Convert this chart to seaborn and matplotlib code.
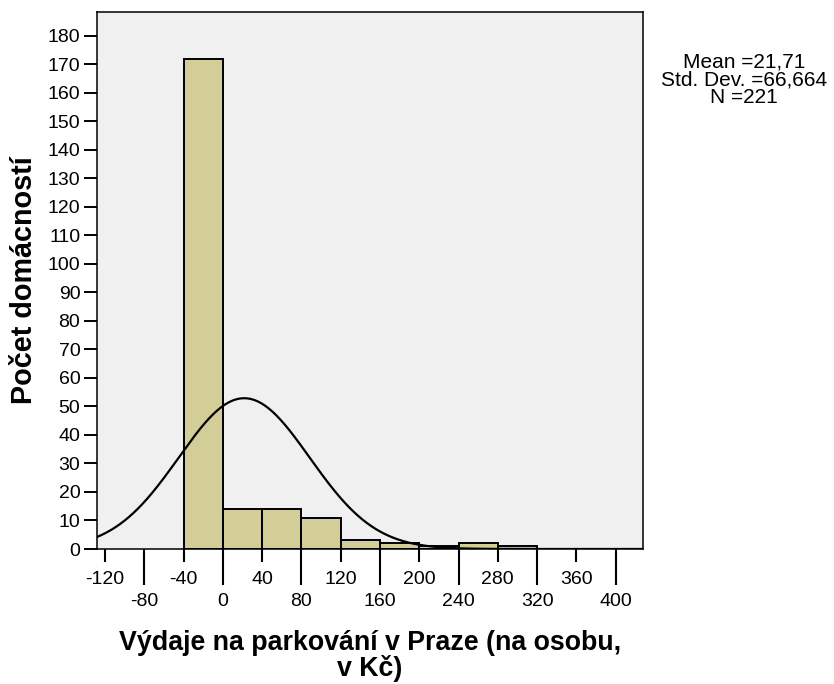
import numpy as np
import pandas as pd
import matplotlib
matplotlib.use("Agg")
import matplotlib.pyplot as plt
import seaborn as sns

# --- data ---
bin_edges = [-40, 0, 40, 80, 120, 160, 200, 240, 280, 320]
counts = [172, 14, 14, 11, 3, 2, 1, 2, 1]
stat_mean = 21.71
stat_sd = 66.664
stat_n = 221
upper_ticks = [-120, -40, 40, 120, 200, 280, 360]
lower_ticks = [-80, 0, 80, 160, 240, 320, 400]
y_ticks = list(range(0, 181, 10))
stats_lines = ['Mean =21,71', 'Std. Dev. =66,664', 'N =221']

sns.set_theme(style="white")
plt.rcParams['font.family'] = ['Liberation Sans', 'DejaVu Sans']
plt.rcParams.update({'text.color': 'black', 'axes.labelcolor': 'black',
                     'xtick.color': 'black', 'ytick.color': 'black'})

W, H = 834, 684
L, R, T, B = 97, 643, 12, 549
fig = plt.figure(figsize=(W/100, H/100), dpi=100)
ax = fig.add_axes([L/W, 1 - B/H, (R-L)/W, (B-T)/H])
ax.set_facecolor('#F0F0F0')

centers = [(a + b) / 2 for a, b in zip(bin_edges[:-1], bin_edges[1:])]
df = pd.DataFrame({'x': centers, 'w': counts})
sns.histplot(data=df, x='x', weights='w', bins=bin_edges, ax=ax,
             color='#D3CE97', alpha=1, edgecolor='black', linewidth=1.4)

xmin, xmax = -128.2, 427.9
bw = bin_edges[1] - bin_edges[0]
xs = np.linspace(xmin, xmax, 600)
ys = stat_n * bw * np.exp(-0.5 * ((xs - stat_mean) / stat_sd) ** 2) / (stat_sd * np.sqrt(2 * np.pi))
sns.lineplot(x=xs, y=ys, ax=ax, color='black', linewidth=1.6)

ax.set_xlim(xmin, xmax)
ax.set_ylim(0, 188.4)

ax.set_yticks(y_ticks)
ax.set_yticklabels([str(v) for v in y_ticks])
ax.tick_params(axis='y', which='major', direction='out', length=9.5, width=1.4,
               pad=2.5, labelsize=14, left=True)

ax.set_xticks(upper_ticks)
ax.set_xticklabels([str(v) for v in upper_ticks])
ax.set_xticks(lower_ticks, minor=True)
ax.set_xticklabels([str(v) for v in lower_ticks], minor=True)
ax.tick_params(axis='x', which='major', direction='out', length=9, width=1.5,
               pad=6.5, labelsize=14, bottom=True)
ax.tick_params(axis='x', which='minor', direction='out', length=26, width=1.5,
               pad=5.5, labelsize=14, bottom=True)

for s in ax.spines.values():
    s.set_visible(True)
    s.set_color('black')
    s.set_linewidth(1.1)

ax.set_ylabel('Počet domácností', fontsize=20.7, fontweight='bold', va='center')
ax.yaxis.set_label_coords((24 - L) / (R - L), 0.5)
ax.set_xlabel('Výdaje na parkování v Praze (na osobu,\nv Kč)', fontsize=19.3,
              fontweight='bold', linespacing=1.0, va='center')
ax.xaxis.set_label_coords(0.5, (B - 656) / (B - T))

fig.text(744/W, 1 - 80/H, '\n'.join(stats_lines), ha='center', va='center',
         fontsize=15, linespacing=0.9)

fig.savefig('out.png', dpi=100)
